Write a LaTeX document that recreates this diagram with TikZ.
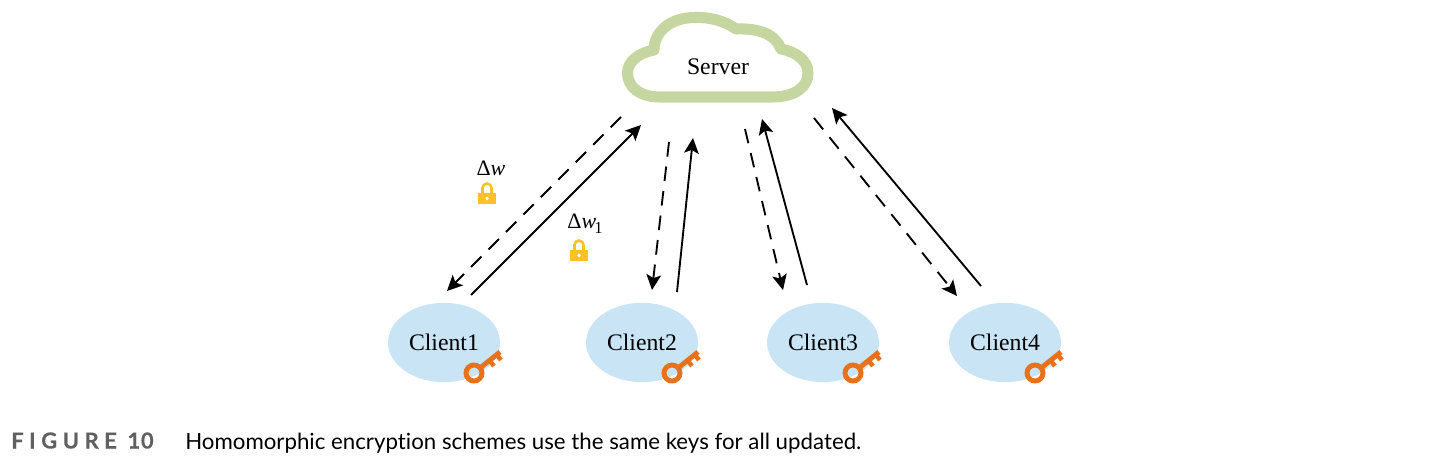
\documentclass[tikz,border=0pt]{standalone}
\usepackage{fontspec}
\setmainfont{Liberation Serif}
\newfontfamily\latofont[Ligatures=NoCommon]{Lato}
\usetikzlibrary{shapes.geometric,arrows.meta,positioning}
\definecolor{cloudgreen}{HTML}{C5D6A0}
\definecolor{clientblue}{HTML}{C9E4F5}
\definecolor{keyorange}{HTML}{E8721C}
\definecolor{lockyellow}{HTML}{FFC125}
\definecolor{capgray}{HTML}{606060}

\begin{document}
\begin{tikzpicture}[x=0.75pt,y=-0.75pt]
	\tikzstyle{Label}	= [font=\fontsize{17.8}{20}\selectfont, inner sep=0pt]
	\tikzstyle{Delta}	= [font=\fontsize{16.5}{20}\selectfont, inner sep=0pt]
	\tikzstyle{Client}	= [ellipse, fill=clientblue, minimum width=84pt, minimum height=59.5pt, inner sep=0pt, Label]
	\tikzstyle{Up}		= [-{Stealth[length=11.5pt,width=11pt,inset=2.5pt]}, line width=1.4pt, black]
	\tikzstyle{Down}	= [Up, dash pattern=on 11pt off 7.5pt]
	\tikzset{
		KeyIcon/.pic={
			\draw [keyorange, line width=3.7pt] (0,0) circle (8);
			\draw [keyorange, line width=3.7pt] (6,-5) -- (26,-21);
			\draw [keyorange, line width=3.4pt] (15,-13) -- (20,-7);
			\draw [keyorange, line width=3.4pt] (22,-19) -- (27,-13);
		},
		LockIcon/.pic={
			\draw [lockyellow, line width=1.9pt] (-4.5,0) -- (-4.5,-5) arc (180:360:4.5) -- (4.5,0);
			\fill [lockyellow] (-9,0) rectangle (9,11);
			\fill [white] (0,5.5) circle (1.8);
		}
	}

	\useasboundingbox (0,0) rectangle (1431,464);

	% cloud
	\draw [cloudgreen, line width=8.3pt, line join=round]
		(660,97) -- (772,97)
		.. controls (795,97) and (808,87) .. (808,73)
		.. controls (808,61) and (797,52) .. (781,49)
		.. controls (776,35) and (760,28) .. (736,29)
		.. controls (725,21) and (710,17) .. (695,17.5)
		.. controls (670,17.5) and (654,32) .. (654,50)
		.. controls (638,53) and (627.5,62) .. (627.5,73)
		.. controls (627.5,87) and (640,97) .. (660,97) -- cycle;
	\node (server) at (718,67) [Label] {Server};

	\foreach \n/\x in {1/444, 2/642, 3/823, 4/1005} {
		\node (client\n) at (\x,342.5) [Client] {Client\n};
		\pic at (\x+30,373) {KeyIcon};
	}

	% end points of the arrows
	\foreach \n/\a/\b/\c/\d in {1/621/117/447/291, 2/669/142/652/290, 3/745/129/783/290, 4/814/118/957/296} {
		\coordinate (sd\n) at (\a,\b);
		\coordinate (cd\n) at (\c,\d);
	}
	\foreach \n/\a/\b/\c/\d in {1/471/295/641/125, 2/677/292/693/138, 3/807/285/762/119, 4/981/286/832/108} {
		\coordinate (cu\n) at (\a,\b);
		\coordinate (su\n) at (\c,\d);
	}
	\foreach \n in {1,2,3,4} {
		\draw [Down] (sd\n) to (cd\n);
		\draw [Up] (cu\n) to (su\n);
	}

	\node (dw) at (491,168) [Delta] {Δ\textit{w}};
	\node (dwone) at (585,224) [Delta] {Δ\textit{w}\kern-1.5pt\raisebox{-4pt}{\fontsize{12.5}{13}\selectfont 1}};
	\pic at (487,193) {LockIcon};
	\pic at (579,250) {LockIcon};

	\node (figno) at (11,448.5) [anchor=base west, inner sep=0pt, text=capgray, font=\latofont\bfseries\fontsize{16.5}{18}\selectfont\addfontfeature{FakeBold=0.4}] {\addfontfeature{LetterSpace=25}FIGURE\hspace{8pt}\addfontfeature{LetterSpace=3}10};
	\node (caption) at (185,449) [anchor=base west, inner sep=0pt, font=\latofont\fontsize{16.7}{18}\selectfont] {Homomorphic encryption schemes use the same keys for all updated.};
\end{tikzpicture}
\end{document}
